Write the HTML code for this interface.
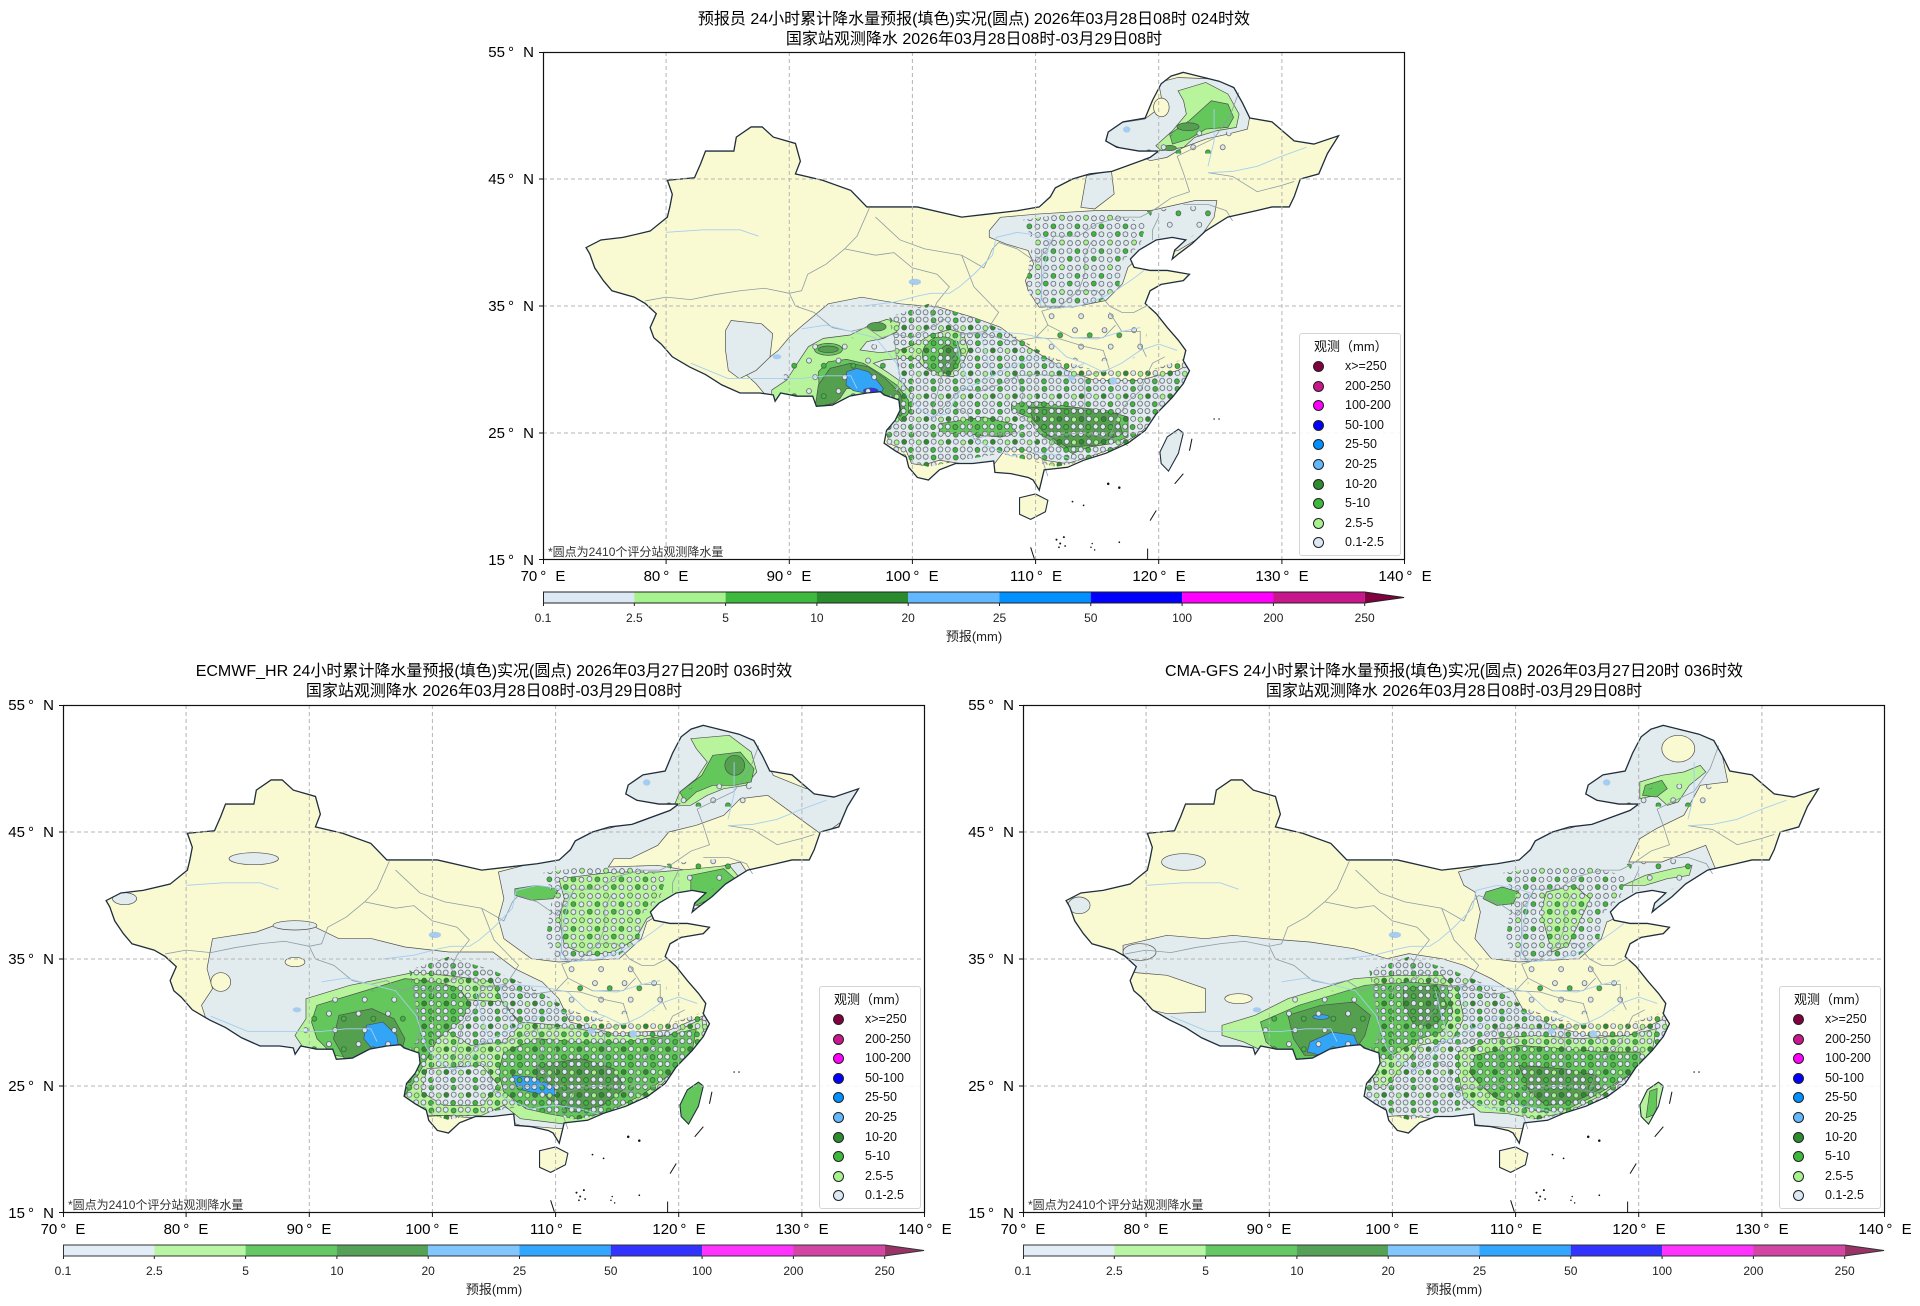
<!DOCTYPE html>
<html><head><meta charset="utf-8">
<style>
html,body{margin:0;padding:0;background:#fff}
body{width:1920px;height:1306px;position:relative;overflow:hidden;font-family:"Liberation Sans","Noto Sans CJK SC",sans-serif;color:#000}
.ttl{position:absolute;width:900px;text-align:center;font-size:16px;line-height:20px;white-space:nowrap}
.lat{position:absolute;width:62px;text-align:right;font-size:15px;line-height:15px;white-space:nowrap}
.lon{position:absolute;width:70px;text-align:center;font-size:15px;line-height:15px;white-space:nowrap}
.d{margin-left:3px}.n{margin-left:5px}
.fn{position:absolute;font-size:12px;line-height:14px;color:#333;white-space:nowrap}
.cbl{position:absolute;width:40px;text-align:center;font-size:12px;line-height:14px;color:#222}
.cbt{position:absolute;width:100px;text-align:center;font-size:13px;line-height:16px;color:#222}
.map{position:absolute;overflow:visible}
.leg{position:absolute;width:100px;height:221px;border:1px solid #d4d4d4;border-radius:3px;background:rgba(255,255,255,.85);font-size:12.5px;color:#111}
.leg .t{position:absolute;left:14px;top:5px;font-size:13px;line-height:16px;white-space:nowrap}
.leg .r{position:absolute;left:0;width:100px;height:16px;line-height:16px}
.leg .m{position:absolute;left:13px;top:3px;width:9px;height:9px;border:1px solid #222;border-radius:50%}
.leg .s{position:absolute;left:45px;top:0;white-space:nowrap}
svg .c > *{stroke:#505050;stroke-width:0.7px;vector-effect:non-scaling-stroke}
.lb{fill:#e2ecee}.lg{fill:#b7f49c}.g{fill:#63c75b}.dg{fill:#54a04f}.bl{fill:#32a5f6}.db{fill:#3333f6}.yl{fill:#fafad2}
</style></head><body>

<svg width="0" height="0" style="position:absolute;left:0;top:0">
<defs>
<path id="cn" vector-effect="non-scaling-stroke" d="M122,-53.4 L124.9,-52.7 L126.1,-52.2 L126.8,-51 L127.4,-49.8 L129.2,-49.5 L131,-48 L132.6,-47.75 L134.6,-48.4 L133.7,-47 L133,-45.4 L131.5,-45 L131,-43.6 L130.6,-42.8 L129.2,-42.8 L127.9,-42.5 L125.6,-42 L123.8,-40.9 L122.7,-39.9 L121.6,-39.1 L121.1,-38.7 L121.3,-39.4 L122.2,-40.2 L121.1,-40.4 L119.8,-40.2 L118.4,-39.4 L117.7,-38.7 L118,-38.05 L119.3,-37.8 L120.7,-37.8 L122.5,-37.5 L122,-37 L120.2,-36.7 L119.3,-36.2 L118.9,-35.2 L119.8,-34.4 L120.7,-33.3 L121.6,-32.3 L122.2,-31.5 L122,-30.7 L122.5,-29.9 L122,-28.9 L121.1,-27.8 L119.8,-26.5 L118.9,-25.2 L117.5,-24.2 L115.7,-23.4 L113.9,-22.85 L112.6,-22.3 L110.7,-22.1 L110.3,-20.5 L109.8,-21.3 L109.4,-21.5 L108,-21.8 L106.7,-21.9 L106.6,-22.8 L104.9,-22.6 L103.5,-22.6 L102.2,-22.1 L101.3,-21.3 L100.4,-21.5 L99.7,-22.3 L99.5,-23.1 L98.6,-23.6 L97.7,-24.2 L97.9,-25.2 L98.6,-26 L99,-26.8 L98.9,-27.6 L97.7,-28 L97.4,-28.25 L96.3,-28.15 L94.9,-27.9 L93.5,-27.2 L92.2,-27.1 L91.9,-27.9 L90.6,-27.9 L89.3,-28.15 L88.85,-27.5 L88.7,-28 L87.6,-28.15 L86,-28.15 L84.5,-28.8 L83.2,-29.6 L81.9,-30.2 L80.5,-31 L79.6,-32 L79,-32.5 L78.7,-33.3 L79.2,-34.4 L78.3,-35.2 L77.4,-35.7 L75.6,-36.2 L74.9,-37 L74.2,-38 L73.8,-39.1 L73.5,-39.6 L74.7,-40.2 L76.5,-40.4 L78.7,-40.9 L80.1,-42 L80.3,-42.8 L80.5,-43.8 L80.1,-44.9 L82.3,-45.1 L82.8,-46.2 L83.2,-47.2 L85.5,-47.2 L85.7,-48.3 L86.9,-49.1 L87.8,-49.1 L88.7,-48.3 L90.5,-47.8 L90.9,-46.4 L90.5,-45.4 L92.7,-44.9 L95,-44.1 L96.3,-42.8 L100.4,-42.8 L104,-42 L105.8,-42.2 L108.5,-42.5 L110.3,-42.8 L111.2,-43.6 L111.6,-44.3 L113,-45 L114.4,-45.4 L116.2,-45.6 L119.3,-46.7 L120,-47.2 L118.4,-47.2 L116.6,-47.5 L115.7,-48 L115.9,-48.7 L117.1,-49.5 L118.9,-49.8 L119.5,-51.2 L120.2,-52.5 L121,-53.1 Z"/>
<path id="isl" vector-effect="non-scaling-stroke" d="M121.6,-25.3 L122,-25 L121.6,-23.4 L120.8,-22 L120.2,-22.6 L120.1,-23.5 L120.7,-24.7 Z M108.7,-19.9 L110,-20.2 L111,-19.7 L110.8,-18.8 L109.6,-18.2 L108.7,-18.6 Z"/>
<clipPath id="cnclip"><path d="M122,-53.4 L124.9,-52.7 L126.1,-52.2 L126.8,-51 L127.4,-49.8 L129.2,-49.5 L131,-48 L132.6,-47.75 L134.6,-48.4 L133.7,-47 L133,-45.4 L131.5,-45 L131,-43.6 L130.6,-42.8 L129.2,-42.8 L127.9,-42.5 L125.6,-42 L123.8,-40.9 L122.7,-39.9 L121.6,-39.1 L121.1,-38.7 L121.3,-39.4 L122.2,-40.2 L121.1,-40.4 L119.8,-40.2 L118.4,-39.4 L117.7,-38.7 L118,-38.05 L119.3,-37.8 L120.7,-37.8 L122.5,-37.5 L122,-37 L120.2,-36.7 L119.3,-36.2 L118.9,-35.2 L119.8,-34.4 L120.7,-33.3 L121.6,-32.3 L122.2,-31.5 L122,-30.7 L122.5,-29.9 L122,-28.9 L121.1,-27.8 L119.8,-26.5 L118.9,-25.2 L117.5,-24.2 L115.7,-23.4 L113.9,-22.85 L112.6,-22.3 L110.7,-22.1 L110.3,-20.5 L109.8,-21.3 L109.4,-21.5 L108,-21.8 L106.7,-21.9 L106.6,-22.8 L104.9,-22.6 L103.5,-22.6 L102.2,-22.1 L101.3,-21.3 L100.4,-21.5 L99.7,-22.3 L99.5,-23.1 L98.6,-23.6 L97.7,-24.2 L97.9,-25.2 L98.6,-26 L99,-26.8 L98.9,-27.6 L97.7,-28 L97.4,-28.25 L96.3,-28.15 L94.9,-27.9 L93.5,-27.2 L92.2,-27.1 L91.9,-27.9 L90.6,-27.9 L89.3,-28.15 L88.85,-27.5 L88.7,-28 L87.6,-28.15 L86,-28.15 L84.5,-28.8 L83.2,-29.6 L81.9,-30.2 L80.5,-31 L79.6,-32 L79,-32.5 L78.7,-33.3 L79.2,-34.4 L78.3,-35.2 L77.4,-35.7 L75.6,-36.2 L74.9,-37 L74.2,-38 L73.8,-39.1 L73.5,-39.6 L74.7,-40.2 L76.5,-40.4 L78.7,-40.9 L80.1,-42 L80.3,-42.8 L80.5,-43.8 L80.1,-44.9 L82.3,-45.1 L82.8,-46.2 L83.2,-47.2 L85.5,-47.2 L85.7,-48.3 L86.9,-49.1 L87.8,-49.1 L88.7,-48.3 L90.5,-47.8 L90.9,-46.4 L90.5,-45.4 L92.7,-44.9 L95,-44.1 L96.3,-42.8 L100.4,-42.8 L104,-42 L105.8,-42.2 L108.5,-42.5 L110.3,-42.8 L111.2,-43.6 L111.6,-44.3 L113,-45 L114.4,-45.4 L116.2,-45.6 L119.3,-46.7 L120,-47.2 L118.4,-47.2 L116.6,-47.5 L115.7,-48 L115.9,-48.7 L117.1,-49.5 L118.9,-49.8 L119.5,-51.2 L120.2,-52.5 L121,-53.1 Z M121.6,-25.3 L122,-25 L121.6,-23.4 L120.8,-22 L120.2,-22.6 L120.1,-23.5 L120.7,-24.7 Z M108.7,-19.9 L110,-20.2 L111,-19.7 L110.8,-18.8 L109.6,-18.2 L108.7,-18.6 Z"/></clipPath>

<pattern id="pS" patternUnits="userSpaceOnUse" width="1.8" height="1.8">
<g stroke="#444" stroke-width="0.05">
<circle cx="0.28" cy="0.27" r="0.2" fill="#dce9f5"/>
<circle cx="0.92" cy="0.33" r="0.2" fill="#3dba3d"/>
<circle cx="1.5" cy="0.26" r="0.2" fill="#dce9f5"/>
<circle cx="0.33" cy="0.9" r="0.2" fill="#2e8b2e"/>
<circle cx="0.93" cy="0.88" r="0.2" fill="#dce9f5"/>
<circle cx="1.52" cy="0.94" r="0.2" fill="#a6f28f"/>
<circle cx="0.27" cy="1.5" r="0.2" fill="#dce9f5"/>
<circle cx="0.88" cy="1.53" r="0.2" fill="#3dba3d"/>
<circle cx="1.48" cy="1.49" r="0.2" fill="#dce9f5"/>
</g></pattern>
<pattern id="pN" patternUnits="userSpaceOnUse" width="1.95" height="1.95">
<g stroke="#444" stroke-width="0.05">
<circle cx="0.3" cy="0.3" r="0.2" fill="#dce9f5"/>
<circle cx="0.98" cy="0.35" r="0.2" fill="#dce9f5"/>
<circle cx="1.63" cy="0.28" r="0.2" fill="#3dba3d"/>
<circle cx="0.35" cy="0.98" r="0.2" fill="#dce9f5"/>
<circle cx="1.0" cy="0.95" r="0.2" fill="#a6f28f"/>
<circle cx="1.65" cy="1.0" r="0.2" fill="#dce9f5"/>
<circle cx="0.3" cy="1.63" r="0.2" fill="#3dba3d"/>
<circle cx="0.95" cy="1.65" r="0.2" fill="#dce9f5"/>
<circle cx="1.6" cy="1.6" r="0.2" fill="#dce9f5"/>
</g></pattern>
<pattern id="pT" patternUnits="userSpaceOnUse" width="2.4" height="2.4">
<g stroke="#444" stroke-width="0.05">
<circle cx="0.4" cy="0.5" r="0.2" fill="#dce9f5"/>
<circle cx="1.6" cy="0.9" r="0.2" fill="#3dba3d"/>
<circle cx="0.9" cy="1.8" r="0.2" fill="#dce9f5"/>
</g></pattern>

<g id="prov" fill="none" stroke="#8c9ca4" stroke-width="0.8">
<polyline vector-effect="non-scaling-stroke" points="78.3,-35.4 80,-35.7 82,-35.5 84,-35.9 86,-36.2 88,-36.4 90,-36 91,-36.2 91.5,-37.5 93,-38.3 94.5,-39.5 95.5,-40.5 96.5,-42.7"/>
<polyline vector-effect="non-scaling-stroke" points="90,-36 90.5,-35 92,-34.5 93.5,-33.3 95,-33 96.3,-33.3 97.5,-32.5 98.5,-32.8 98.7,-31 99,-29.5 98.7,-28.3"/>
<polyline vector-effect="non-scaling-stroke" points="94.5,-39.5 97,-39 98.5,-39.2 100,-38 102,-37.5 103,-36.5 102,-35.3 101.5,-34.3 102,-33.5 102.5,-34"/>
<polyline vector-effect="non-scaling-stroke" points="98.5,-32.8 100,-32.5 101.5,-33.3 102,-33.5"/>
<polyline vector-effect="non-scaling-stroke" points="97,-42 99,-40.2 101,-39.5 104,-39 105.8,-38 106.5,-39.5 107,-40 108.5,-39.5 110,-38.5 111,-39.5 111.5,-40.5 113.5,-40.5 115,-41.5 117,-42 118.5,-42 119.5,-42.5 121,-43.5 122.5,-44 122,-45.5 121.5,-46.8 123,-47.5 124.5,-48.2 125.8,-50 126.5,-51.8"/>
<polyline vector-effect="non-scaling-stroke" points="104,-39 105,-36.5 106,-35.5 106.5,-35 107,-34.5 106,-33 104,-32.8 102.5,-34"/>
<polyline vector-effect="non-scaling-stroke" points="110.5,-39.5 110.5,-37 110.5,-35.5 111,-34.8"/>
<polyline vector-effect="non-scaling-stroke" points="104,-32.8 106,-32.8 108,-32.2 110,-32.5 111,-33.5 110.5,-34.6"/>
<polyline vector-effect="non-scaling-stroke" points="101.5,-26 103,-27.5 104,-28.5 105.5,-28.3 107,-28.8 108.5,-29.5 109,-28 108.5,-26.5 109.5,-25.8 108.5,-25 106,-24.8 105,-24.5 104.5,-26.5 103.5,-27"/>
<polyline vector-effect="non-scaling-stroke" points="108.5,-29.5 110,-29.6 112,-29.5 114,-29.5 116,-30"/>
<polyline vector-effect="non-scaling-stroke" points="110,-32.5 112,-32.4 114,-31.8 115.5,-31.5 116,-30"/>
<polyline vector-effect="non-scaling-stroke" points="114,-29.5 114,-27 114,-25.5 113.5,-25"/>
<polyline vector-effect="non-scaling-stroke" points="110.5,-24.5 112,-24.8 113.5,-25 115,-24.8 116.5,-24.5 117.5,-24"/>
<polyline vector-effect="non-scaling-stroke" points="111,-21.6 110.5,-23 111.5,-24.5"/>
<polyline vector-effect="non-scaling-stroke" points="116,-24.6 116.5,-26 117.5,-27.5 118.5,-28.3 119,-29.5 119.5,-30.5 120.5,-31"/>
<polyline vector-effect="non-scaling-stroke" points="110.5,-34.6 112,-35 113.5,-36.2 115,-36.2 116,-35 117,-34.5 118,-34.5 119,-35"/>
<polyline vector-effect="non-scaling-stroke" points="113.5,-36.2 114,-37.5 114,-39 114.5,-40"/>
<polyline vector-effect="non-scaling-stroke" points="116,-34.5 117,-33 118.5,-33 118.5,-32 119,-31"/>
<polyline vector-effect="non-scaling-stroke" points="111,-33.5 113,-32.5 115.5,-32.5 116.5,-33.5"/>
<polyline vector-effect="non-scaling-stroke" points="124,-45.5 126,-45.2 128,-44 130,-44.5 131,-44.8"/>
<polyline vector-effect="non-scaling-stroke" points="122,-43 124,-43 125.5,-42.5 126,-41.7"/>
<polyline vector-effect="non-scaling-stroke" points="119.5,-40.2 119.5,-41 120,-42"/>
<polyline vector-effect="non-scaling-stroke" points="104,-32.8 103.5,-31 102.5,-30 102,-28 101.5,-26.5"/>
</g>
<g id="riv" fill="none" stroke="#a6cdf0" stroke-width="0.9">
<polyline vector-effect="non-scaling-stroke" points="96,-35 98.5,-35.3 100.5,-35.8 101.5,-36 103,-36 103.8,-36.5 105,-37.5 106.5,-39 106.8,-40.4 108.5,-40.8 110,-40.6 111.2,-40.2 110.8,-38.5 110.5,-36.5 110.4,-35 111.5,-34.8 113.5,-35 115,-35.5 116.5,-36.2 118,-37.2 118.8,-37.8"/>
<polyline vector-effect="non-scaling-stroke" points="91,-33.2 93,-33.5 95,-33 97,-32.5 98.7,-30.5 99.5,-28 100.5,-27 101.5,-26.3 102.8,-26.5 104,-28.5 105,-28.8 106.5,-29.5 108,-30.2 110,-31 111.5,-30.5 112.5,-29.8 114,-30.5 115.5,-29.8 117,-30.5 118.5,-31.5 120,-32 121.5,-31.5"/>
<polyline vector-effect="non-scaling-stroke" points="104.5,-24.9 106,-24 108,-23.2 110,-23.5 112,-23.2 113.5,-22.8"/>
<polyline vector-effect="non-scaling-stroke" points="113,-32.5 115,-32.4 117,-33 118.5,-33.3"/>
<polyline vector-effect="non-scaling-stroke" points="124,-45.5 126,-45.6 128,-46 130,-46.8 132,-47.5"/>
<polyline vector-effect="non-scaling-stroke" points="124.5,-50.5 124.5,-48 124,-46"/>
<polyline vector-effect="non-scaling-stroke" points="82,-30.5 85,-29.3 88,-29.3 91,-29.3 93,-29.5 95,-29.5 95.5,-28.5"/>
<polyline vector-effect="non-scaling-stroke" points="80,-40.8 83,-41 86,-41 87.5,-40.5"/>
<polyline vector-effect="non-scaling-stroke" points="106.5,-33 109,-32.8 111,-32.4 112.5,-31 114,-30.5"/>
<polyline vector-effect="non-scaling-stroke" points="103.5,-32.5 104,-30.5 104.5,-29"/>
<polyline vector-effect="non-scaling-stroke" points="105.5,-33 106,-31 106.5,-29.5"/>
</g>
<g id="lakes" fill="#a6cdf0">
<ellipse cx="100.2" cy="-36.9" rx="0.5" ry="0.25"/>
<ellipse cx="116.3" cy="-29.1" rx="0.3" ry="0.3"/>
<ellipse cx="112.9" cy="-29.3" rx="0.3" ry="0.2"/>
<ellipse cx="89" cy="-31" rx="0.35" ry="0.2"/>
<ellipse cx="117.4" cy="-48.9" rx="0.3" ry="0.25"/>
</g>
<g id="dots">
<polygon fill="url(#pN)" points="109,-41.8 112,-42.2 116,-42.3 119,-41.5 118.5,-39.8 117,-38.5 116.8,-36.5 115,-35.2 112,-34.8 110,-35 109.2,-36.5 109.5,-38.5 109.8,-40"/>
<polygon fill="url(#pS)" points="98.12,-34.12 101.28,-35.17 104.89,-34.12 108.04,-32.81 111.2,-30.98 114.81,-29.93 119.31,-29.93 122.47,-30.98 122.47,-28.88 120.22,-26.26 117.51,-24.16 114.35,-22.85 111.65,-22.33 109.4,-22.85 107.14,-23.37 103.98,-22.85 101.28,-22.33 98.58,-23.11 97.45,-24.95 97.67,-27.31 99.02,-28.88 98.58,-31.5"/>
<polygon fill="url(#pT)" points="89.56,-31.5 94.97,-32.55 98.58,-31.5 98.58,-27.83 94.97,-27.57 89.56,-27.83"/>
<polygon fill="url(#pT)" points="119,-42.5 124.5,-43 124.5,-41 121,-40"/>
<polygon fill="url(#pT)" points="118.5,-47 121,-48.5 125,-49 127,-48 125,-47"/>
<polygon fill="url(#pT)" points="111,-34.8 116,-34.5 119,-33 119,-31 114,-30.5 111,-31.5"/>
</g>
<g id="misc" stroke="#111" stroke-width="1" fill="#111">
<line vector-effect="non-scaling-stroke" x1="122.7" y1="-24.55" x2="122.5" y2="-23.6"/>
<line vector-effect="non-scaling-stroke" x1="122" y1="-21.8" x2="121.3" y2="-21"/>
<line vector-effect="non-scaling-stroke" x1="119.8" y1="-18.9" x2="119.3" y2="-18.1"/>
<line vector-effect="non-scaling-stroke" x1="119.1" y1="-15.9" x2="119.1" y2="-15"/>
<line vector-effect="non-scaling-stroke" x1="109.6" y1="-16" x2="109.9" y2="-15.1"/>
<g stroke="none">
<circle cx="115.9" cy="-21" r="0.1"/><circle cx="116.8" cy="-20.7" r="0.1"/>
<circle cx="113" cy="-19.6" r="0.07"/><circle cx="113.9" cy="-19.3" r="0.07"/>
<circle cx="111.7" cy="-16.6" r="0.08"/><circle cx="112" cy="-16.3" r="0.08"/><circle cx="112.3" cy="-16.8" r="0.08"/><circle cx="111.9" cy="-16" r="0.07"/><circle cx="112.4" cy="-16.1" r="0.07"/>
<circle cx="114.5" cy="-16" r="0.06"/><circle cx="114.8" cy="-15.8" r="0.06"/><circle cx="114.6" cy="-16.3" r="0.06"/>
<circle cx="116.8" cy="-16.4" r="0.07"/>
<circle cx="124.5" cy="-26.1" r="0.06"/><circle cx="124.9" cy="-26.1" r="0.06"/>
</g>
</g>
</defs>
</svg>

<!-- ================= TOP PANEL ================= -->
<div class="ttl" style="left:524px;top:10px">预报员 24小时累计降水量预报(填色)实况(圆点) 2026年03月28日08时 024时效</div>
<div class="ttl" style="left:524px;top:30px">国家站观测降水 2026年03月28日08时-03月29日08时</div>

<svg class="map" style="left:543px;top:52px" width="862" height="508" viewBox="0 0 862 508">
<g transform="matrix(12.314 0 0 12.7 -861.98 698.5)">
<use href="#cn" fill="#fafad2"/>
<use href="#isl" fill="#fafad2"/>
<g clip-path="url(#cnclip)">
<g class="c" transform="matrix(0.045086 0 0 0.026212 69.72 -55.092)">
<polygon class="lb" points="1115,95 1150,80 1220,85 1260,120 1280,190 1275,235 1240,250 1200,265 1160,290 1130,320 1100,330 1060,300 1020,275 1025,240 1050,215 1090,205 1110,180 1120,140"/>
<ellipse class="yl" cx="1120" cy="170" rx="14" ry="28"/>
<polygon class="lb" points="810,540 830,500 900,490 1000,480 1100,480 1180,450 1220,450 1215,500 1190,560 1150,600 1080,620 1060,650 1050,700 1020,750 960,770 900,770 880,720 875,690 890,640 880,600 840,580 810,560"/>
<polygon class="lb" points="985,375 1030,360 1035,430 1000,475 975,470"/>
<polygon class="lb" points="470,830 520,760 580,740 650,760 720,770 780,800 830,830 870,880 900,910 950,960 1000,990 1080,990 1150,960 1180,930 1170,1000 1120,1090 1080,1150 1040,1190 990,1220 950,1240 910,1230 880,1200 840,1195 815,1250 760,1240 720,1230 690,1245 670,1240 660,1200 630,1180 620,1110 600,1100 500,1100 450,1080 420,1060 390,1000 370,970 400,940 430,900 450,860"/>
<polygon class="lb" points="345,810 400,820 420,850 415,920 390,960 360,985 340,960 335,900 335,840"/>
<polygon class="lg" points="1150,120 1200,95 1240,130 1260,190 1255,230 1220,240 1180,260 1160,290 1120,300 1110,285 1140,240 1165,190 1160,150"/>
<polygon class="g" points="1170,210 1210,150 1240,160 1250,200 1240,230 1200,235 1170,265 1140,280 1135,250"/>
<ellipse class="dg" cx="1168" cy="228" rx="20" ry="12"/>
<ellipse class="dg" cx="1135" cy="292" rx="12" ry="8"/>
<polygon class="g" points="850,1060 900,1055 960,1070 1020,1080 1060,1100 1060,1160 1030,1180 990,1190 960,1210 930,1180 900,1150 880,1100 850,1080"/>
<polygon class="dg" points="880,1070 960,1075 1040,1090 1050,1150 1000,1185 950,1190 910,1150 890,1110"/>
<polygon class="g" points="720,1120 800,1100 850,1120 860,1150 830,1160 760,1150 720,1150"/>
</g>
<g class="c" transform="matrix(0.027078 0 0 0.026247 86.0 -35.47)">
<polygon class="lg" points="95,270 140,240 175,185 205,140 250,115 330,105 390,75 440,58 480,68 470,95 430,115 380,125 360,150 420,158 480,150 530,130 570,105 630,88 670,100 685,150 665,200 640,230 590,225 550,200 530,175 480,175 430,180 400,190 440,215 490,250 520,290 510,330 490,360 460,330 440,300 380,290 300,320 200,330 95,300"/>
<ellipse class="g" cx="605" cy="165" rx="58" ry="55"/>
<ellipse class="dg" cx="622" cy="178" rx="26" ry="42"/>
<ellipse class="g" cx="265" cy="148" rx="42" ry="18"/>
<ellipse class="dg" cx="265" cy="148" rx="30" ry="10"/>
<ellipse class="dg" cx="410" cy="80" rx="28" ry="13"/>
<polygon class="g" points="235,215 265,185 320,178 370,190 420,220 470,255 505,300 505,340 485,365 455,335 430,295 385,270 330,258 290,265 260,300 240,320"/>
<polygon class="dg" points="225,322 235,255 270,205 330,190 385,200 435,235 480,280 495,330 480,350 460,320 420,285 370,268 320,265 300,295 280,310"/>
<polygon class="bl" points="320,215 350,205 385,215 410,240 430,265 420,285 380,280 340,272 318,255"/>
<ellipse class="db" cx="392" cy="272" rx="22" ry="8"/>
</g>
<g class="c"><polygon class="lb" points="119.8,-21.8 122.3,-21.8 122.3,-25.5 119.8,-25.5"/></g>
<use href="#dots"/>
</g>
<use href="#prov"/>
<use href="#riv"/>
<use href="#lakes"/>
<use href="#cn" fill="none" stroke="#1f2d3d" stroke-width="1.3"/>
<use href="#isl" fill="none" stroke="#1f2d3d" stroke-width="1.1"/>
<use href="#misc"/>
</g>
<g stroke="#b4b4b4" stroke-width="1" stroke-dasharray="4,3">
<line x1="123.1" y1="0" x2="123.1" y2="508"/><line x1="246.3" y1="0" x2="246.3" y2="508"/><line x1="369.4" y1="0" x2="369.4" y2="508"/><line x1="492.6" y1="0" x2="492.6" y2="508"/><line x1="615.7" y1="0" x2="615.7" y2="508"/><line x1="738.9" y1="0" x2="738.9" y2="508"/>
<line x1="0" y1="127" x2="862" y2="127"/><line x1="0" y1="254" x2="862" y2="254"/><line x1="0" y1="381" x2="862" y2="381"/>
</g>
<rect x="0.5" y="0.5" width="861" height="507" fill="none" stroke="#111" stroke-width="1.2"/>
<g stroke="#111" stroke-width="1">
<line x1="-4" y1="0.5" x2="0" y2="0.5"/><line x1="-4" y1="127" x2="0" y2="127"/><line x1="-4" y1="254" x2="0" y2="254"/><line x1="-4" y1="381" x2="0" y2="381"/><line x1="-4" y1="507.5" x2="0" y2="507.5"/>
<line x1="0.5" y1="508" x2="0.5" y2="512"/><line x1="123.1" y1="508" x2="123.1" y2="512"/><line x1="246.3" y1="508" x2="246.3" y2="512"/><line x1="369.4" y1="508" x2="369.4" y2="512"/><line x1="492.6" y1="508" x2="492.6" y2="512"/><line x1="615.7" y1="508" x2="615.7" y2="512"/><line x1="738.9" y1="508" x2="738.9" y2="512"/><line x1="861.5" y1="508" x2="861.5" y2="512"/>
</g>
</svg>

<div class="lat" style="left:472px;top:44.5px">55<span class="d">°</span>&nbsp;<span class="n">N</span></div>
<div class="lat" style="left:472px;top:171.5px">45<span class="d">°</span>&nbsp;<span class="n">N</span></div>
<div class="lat" style="left:472px;top:298.5px">35<span class="d">°</span>&nbsp;<span class="n">N</span></div>
<div class="lat" style="left:472px;top:425.5px">25<span class="d">°</span>&nbsp;<span class="n">N</span></div>
<div class="lat" style="left:472px;top:552.5px">15<span class="d">°</span>&nbsp;<span class="n">N</span></div>

<div class="lon" style="left:508px;top:569px">70<span class="d">°</span>&nbsp;<span class="n">E</span></div>
<div class="lon" style="left:631px;top:569px">80<span class="d">°</span>&nbsp;<span class="n">E</span></div>
<div class="lon" style="left:754px;top:569px">90<span class="d">°</span>&nbsp;<span class="n">E</span></div>
<div class="lon" style="left:877px;top:569px">100<span class="d">°</span>&nbsp;<span class="n">E</span></div>
<div class="lon" style="left:1001px;top:569px">110<span class="d">°</span>&nbsp;<span class="n">E</span></div>
<div class="lon" style="left:1124px;top:569px">120<span class="d">°</span>&nbsp;<span class="n">E</span></div>
<div class="lon" style="left:1247px;top:569px">130<span class="d">°</span>&nbsp;<span class="n">E</span></div>
<div class="lon" style="left:1370px;top:569px">140<span class="d">°</span>&nbsp;<span class="n">E</span></div>

<div class="fn" style="left:548px;top:545px">*圆点为2410个评分站观测降水量</div>

<div class="leg" style="left:1299px;top:333px">
<div class="t">观测（mm）</div>
<div class="r" style="top:24px"><span class="m" style="background:#800040"></span><span class="s">x&gt;=250</span></div>
<div class="r" style="top:43.6px"><span class="m" style="background:#c8168c"></span><span class="s">200-250</span></div>
<div class="r" style="top:63.2px"><span class="m" style="background:#ff00ff"></span><span class="s">100-200</span></div>
<div class="r" style="top:82.8px"><span class="m" style="background:#0000ff"></span><span class="s">50-100</span></div>
<div class="r" style="top:102.4px"><span class="m" style="background:#0090ff"></span><span class="s">25-50</span></div>
<div class="r" style="top:122px"><span class="m" style="background:#61b8ff"></span><span class="s">20-25</span></div>
<div class="r" style="top:141.6px"><span class="m" style="background:#2e8b2e"></span><span class="s">10-20</span></div>
<div class="r" style="top:161.2px"><span class="m" style="background:#3dba3d"></span><span class="s">5-10</span></div>
<div class="r" style="top:180.8px"><span class="m" style="background:#a6f28f"></span><span class="s">2.5-5</span></div>
<div class="r" style="top:200.4px"><span class="m" style="background:#dce9f5"></span><span class="s">0.1-2.5</span></div>
</div>

<svg class="map" style="left:543px;top:590px" width="862" height="18" viewBox="0 0 862 18">
<rect x="0" y="2" width="91.4" height="11" fill="#dce9f5"/>
<rect x="91.3" y="2" width="91.4" height="11" fill="#a6f28f"/>
<rect x="182.6" y="2" width="91.4" height="11" fill="#3dba3d"/>
<rect x="273.9" y="2" width="91.4" height="11" fill="#2a8a2e"/>
<rect x="365.2" y="2" width="91.4" height="11" fill="#61b8ff"/>
<rect x="456.5" y="2" width="91.4" height="11" fill="#0090ff"/>
<rect x="547.8" y="2" width="91.4" height="11" fill="#0000ff"/>
<rect x="639.1" y="2" width="91.4" height="11" fill="#ff00ff"/>
<rect x="730.4" y="2" width="91.3" height="11" fill="#c8168c"/>
<polygon points="821.7,2 862,7.5 821.7,13" fill="#800040"/>
<path d="M0.5,2 H821.7 L861,7.5 L821.7,13 H0.5 Z" fill="none" stroke="#222" stroke-width="1"/>
<g stroke="#222" stroke-width="1"><line x1="0.5" y1="13" x2="0.5" y2="16"/><line x1="91.3" y1="13" x2="91.3" y2="16"/><line x1="182.6" y1="13" x2="182.6" y2="16"/><line x1="273.9" y1="13" x2="273.9" y2="16"/><line x1="365.2" y1="13" x2="365.2" y2="16"/><line x1="456.5" y1="13" x2="456.5" y2="16"/><line x1="547.8" y1="13" x2="547.8" y2="16"/><line x1="639.1" y1="13" x2="639.1" y2="16"/><line x1="730.4" y1="13" x2="730.4" y2="16"/><line x1="821.7" y1="13" x2="821.7" y2="16"/></g>
</svg>
<div class="cbl" style="left:523px;top:611px">0.1</div>
<div class="cbl" style="left:614.3px;top:611px">2.5</div>
<div class="cbl" style="left:705.6px;top:611px">5</div>
<div class="cbl" style="left:796.9px;top:611px">10</div>
<div class="cbl" style="left:888.2px;top:611px">20</div>
<div class="cbl" style="left:979.5px;top:611px">25</div>
<div class="cbl" style="left:1070.8px;top:611px">50</div>
<div class="cbl" style="left:1162.1px;top:611px">100</div>
<div class="cbl" style="left:1253.4px;top:611px">200</div>
<div class="cbl" style="left:1344.7px;top:611px">250</div>
<div class="cbt" style="left:924px;top:629px">预报(mm)</div>

<!-- ================= BOTTOM LEFT (ECMWF) ================= -->
<div class="ttl" style="left:44px;top:662px">ECMWF_HR 24小时累计降水量预报(填色)实况(圆点) 2026年03月27日20时 036时效</div>
<div class="ttl" style="left:44px;top:682px">国家站观测降水 2026年03月28日08时-03月29日08时</div>

<svg class="map" style="left:63px;top:705px" width="862" height="508" viewBox="0 0 862 508">
<g transform="matrix(12.314 0 0 12.7 -861.98 698.5)">
<use href="#cn" fill="#fafad2"/>
<use href="#isl" fill="#fafad2"/>
<g clip-path="url(#cnclip)">
<g class="c" transform="matrix(0.044643 0 0 0.026247 70.089 -54.974)">
<polygon class="lb" points="270,700 350,680 400,650 450,660 500,700 560,700 620,725 700,740 780,740 820,790 870,830 900,880 920,950 1000,985 1100,975 1165,930 1175,1000 1120,1100 1060,1190 990,1240 950,1270 900,1270 830,1260 790,1240 720,1235 690,1230 650,1235 620,1200 600,1100 560,1110 480,1100 420,1060 340,1040 300,990 260,950 250,900 270,850 260,790"/>
<polygon class="lb" points="790,500 860,470 920,430 940,380 990,370 1030,350 1020,250 1040,200 1100,150 1130,60 1220,60 1260,110 1290,210 1350,250 1460,240 1430,330 1380,390 1330,330 1280,270 1230,280 1200,330 1150,360 1100,380 1080,420 1030,460 1000,460 990,485 1080,480 1150,500 1230,470 1250,520 1200,580 1150,610 1100,610 1060,650 1050,700 1010,760 900,770 850,760 800,700 790,640 800,580"/>
<ellipse class="lb" cx="345" cy="460" rx="45" ry="18"/>
<ellipse class="lb" cx="110" cy="580" rx="22" ry="18"/>
<ellipse class="lb" cx="420" cy="660" rx="40" ry="14"/>
<ellipse class="yl" cx="420" cy="770" rx="18" ry="14"/>
<ellipse class="yl" cx="285" cy="830" rx="18" ry="28"/>
<path class="lg" fill-rule="evenodd" d="M440,880 L520,840 640,800 720,815 780,830 800,900 830,950 900,960 1000,990 1100,990 1160,940 1165,1000 1110,1100 1060,1180 990,1230 930,1260 880,1250 830,1240 800,1200 760,1230 700,1230 650,1230 620,1180 620,1090 600,1070 540,1070 490,1060 440,1040 420,990 440,940 Z M700,880 L800,890 830,960 800,1010 740,1020 700,980 680,930 Z M660,1090 L760,1080 790,1140 760,1200 690,1200 650,1160 Z"/>
<polygon class="g" points="460,900 540,860 620,820 680,830 720,850 740,900 720,950 680,1000 660,1060 640,1120 620,1170 610,1100 600,1060 540,1060 490,1050 460,1000 450,950"/>
<polygon class="g" points="800,1040 860,1000 940,1010 1020,1010 1100,990 1150,970 1140,1060 1100,1110 1050,1170 990,1220 930,1240 880,1225 840,1210 800,1160 790,1100"/>
<polygon class="dg" points="500,930 560,910 600,940 620,1000 610,1060 560,1060 510,1060 490,1000"/>
<polygon class="dg" points="860,1080 940,1060 1000,1090 1020,1150 980,1200 930,1220 880,1180 860,1130"/>
<polygon class="bl" points="550,960 580,950 605,990 610,1040 590,1050 560,1030 545,1000"/>
<polygon class="bl" points="815,1110 850,1115 890,1140 895,1170 860,1165 825,1150"/>
<polygon class="lg" points="1140,100 1210,90 1250,140 1260,200 1240,240 1200,250 1170,270 1140,300 1110,300 1120,260 1150,220 1170,170 1150,130"/>
<polygon class="g" points="1180,150 1230,140 1255,190 1250,230 1220,240 1180,240 1150,260 1130,290 1120,260 1160,210"/>
<ellipse class="dg" cx="1220" cy="180" rx="18" ry="30"/>
<polygon class="lg" points="900,520 1000,500 1080,500 1150,490 1210,480 1230,520 1200,570 1160,600 1100,600 1060,640 1040,700 1000,740 950,750 910,720 900,640 910,580"/>
<polygon class="g" points="820,550 860,540 900,550 890,580 850,585 820,570"/>
<polygon class="g" points="1140,510 1200,490 1220,520 1190,570 1150,600 1140,560"/>
</g>
<g class="c"><polygon class="g" points="119.8,-21.8 122.3,-21.8 122.3,-25.5 119.8,-25.5"/></g>
<use href="#dots"/>
</g>
<use href="#prov"/>
<use href="#riv"/>
<use href="#lakes"/>
<use href="#cn" fill="none" stroke="#1f2d3d" stroke-width="1.3"/>
<use href="#isl" fill="none" stroke="#1f2d3d" stroke-width="1.1"/>
<use href="#misc"/>
</g>
<g stroke="#b4b4b4" stroke-width="1" stroke-dasharray="4,3">
<line x1="123.1" y1="0" x2="123.1" y2="508"/><line x1="246.3" y1="0" x2="246.3" y2="508"/><line x1="369.4" y1="0" x2="369.4" y2="508"/><line x1="492.6" y1="0" x2="492.6" y2="508"/><line x1="615.7" y1="0" x2="615.7" y2="508"/><line x1="738.9" y1="0" x2="738.9" y2="508"/>
<line x1="0" y1="127" x2="862" y2="127"/><line x1="0" y1="254" x2="862" y2="254"/><line x1="0" y1="381" x2="862" y2="381"/>
</g>
<rect x="0.5" y="0.5" width="861" height="507" fill="none" stroke="#111" stroke-width="1.2"/>
<g stroke="#111" stroke-width="1">
<line x1="-4" y1="0.5" x2="0" y2="0.5"/><line x1="-4" y1="127" x2="0" y2="127"/><line x1="-4" y1="254" x2="0" y2="254"/><line x1="-4" y1="381" x2="0" y2="381"/><line x1="-4" y1="507.5" x2="0" y2="507.5"/>
<line x1="0.5" y1="508" x2="0.5" y2="512"/><line x1="123.1" y1="508" x2="123.1" y2="512"/><line x1="246.3" y1="508" x2="246.3" y2="512"/><line x1="369.4" y1="508" x2="369.4" y2="512"/><line x1="492.6" y1="508" x2="492.6" y2="512"/><line x1="615.7" y1="508" x2="615.7" y2="512"/><line x1="738.9" y1="508" x2="738.9" y2="512"/><line x1="861.5" y1="508" x2="861.5" y2="512"/>
</g>
</svg>

<div class="lat" style="left:-8px;top:697.5px">55<span class="d">°</span>&nbsp;<span class="n">N</span></div>
<div class="lat" style="left:-8px;top:824.5px">45<span class="d">°</span>&nbsp;<span class="n">N</span></div>
<div class="lat" style="left:-8px;top:951.5px">35<span class="d">°</span>&nbsp;<span class="n">N</span></div>
<div class="lat" style="left:-8px;top:1078.5px">25<span class="d">°</span>&nbsp;<span class="n">N</span></div>
<div class="lat" style="left:-8px;top:1205.5px">15<span class="d">°</span>&nbsp;<span class="n">N</span></div>

<div class="lon" style="left:28px;top:1222px">70<span class="d">°</span>&nbsp;<span class="n">E</span></div>
<div class="lon" style="left:151px;top:1222px">80<span class="d">°</span>&nbsp;<span class="n">E</span></div>
<div class="lon" style="left:274px;top:1222px">90<span class="d">°</span>&nbsp;<span class="n">E</span></div>
<div class="lon" style="left:397px;top:1222px">100<span class="d">°</span>&nbsp;<span class="n">E</span></div>
<div class="lon" style="left:521px;top:1222px">110<span class="d">°</span>&nbsp;<span class="n">E</span></div>
<div class="lon" style="left:644px;top:1222px">120<span class="d">°</span>&nbsp;<span class="n">E</span></div>
<div class="lon" style="left:767px;top:1222px">130<span class="d">°</span>&nbsp;<span class="n">E</span></div>
<div class="lon" style="left:890px;top:1222px">140<span class="d">°</span>&nbsp;<span class="n">E</span></div>

<div class="fn" style="left:68px;top:1198px">*圆点为2410个评分站观测降水量</div>

<div class="leg" style="left:819px;top:986px">
<div class="t">观测（mm）</div>
<div class="r" style="top:24px"><span class="m" style="background:#800040"></span><span class="s">x&gt;=250</span></div>
<div class="r" style="top:43.6px"><span class="m" style="background:#c8168c"></span><span class="s">200-250</span></div>
<div class="r" style="top:63.2px"><span class="m" style="background:#ff00ff"></span><span class="s">100-200</span></div>
<div class="r" style="top:82.8px"><span class="m" style="background:#0000ff"></span><span class="s">50-100</span></div>
<div class="r" style="top:102.4px"><span class="m" style="background:#0090ff"></span><span class="s">25-50</span></div>
<div class="r" style="top:122px"><span class="m" style="background:#61b8ff"></span><span class="s">20-25</span></div>
<div class="r" style="top:141.6px"><span class="m" style="background:#2e8b2e"></span><span class="s">10-20</span></div>
<div class="r" style="top:161.2px"><span class="m" style="background:#3dba3d"></span><span class="s">5-10</span></div>
<div class="r" style="top:180.8px"><span class="m" style="background:#a6f28f"></span><span class="s">2.5-5</span></div>
<div class="r" style="top:200.4px"><span class="m" style="background:#dce9f5"></span><span class="s">0.1-2.5</span></div>
</div>

<svg class="map" style="left:63px;top:1243px" width="862" height="18" viewBox="0 0 862 18">
<rect x="0" y="2" width="91.4" height="11" fill="#e3edf7"/>
<rect x="91.3" y="2" width="91.4" height="11" fill="#b8f5a5"/>
<rect x="182.6" y="2" width="91.4" height="11" fill="#64c864"/>
<rect x="273.9" y="2" width="91.4" height="11" fill="#55a158"/>
<rect x="365.2" y="2" width="91.4" height="11" fill="#81c6ff"/>
<rect x="456.5" y="2" width="91.4" height="11" fill="#33a6ff"/>
<rect x="547.8" y="2" width="91.4" height="11" fill="#3333ff"/>
<rect x="639.1" y="2" width="91.4" height="11" fill="#ff33ff"/>
<rect x="730.4" y="2" width="91.3" height="11" fill="#d345a3"/>
<polygon points="821.7,2 862,7.5 821.7,13" fill="#993366"/>
<path d="M0.5,2 H821.7 L861,7.5 L821.7,13 H0.5 Z" fill="none" stroke="#333" stroke-width="1"/>
<g stroke="#222" stroke-width="1"><line x1="0.5" y1="13" x2="0.5" y2="16"/><line x1="91.3" y1="13" x2="91.3" y2="16"/><line x1="182.6" y1="13" x2="182.6" y2="16"/><line x1="273.9" y1="13" x2="273.9" y2="16"/><line x1="365.2" y1="13" x2="365.2" y2="16"/><line x1="456.5" y1="13" x2="456.5" y2="16"/><line x1="547.8" y1="13" x2="547.8" y2="16"/><line x1="639.1" y1="13" x2="639.1" y2="16"/><line x1="730.4" y1="13" x2="730.4" y2="16"/><line x1="821.7" y1="13" x2="821.7" y2="16"/></g>
</svg>
<div class="cbl" style="left:43px;top:1264px">0.1</div>
<div class="cbl" style="left:134.3px;top:1264px">2.5</div>
<div class="cbl" style="left:225.6px;top:1264px">5</div>
<div class="cbl" style="left:316.9px;top:1264px">10</div>
<div class="cbl" style="left:408.2px;top:1264px">20</div>
<div class="cbl" style="left:499.5px;top:1264px">25</div>
<div class="cbl" style="left:590.8px;top:1264px">50</div>
<div class="cbl" style="left:682.1px;top:1264px">100</div>
<div class="cbl" style="left:773.4px;top:1264px">200</div>
<div class="cbl" style="left:864.7px;top:1264px">250</div>
<div class="cbt" style="left:444px;top:1282px">预报(mm)</div>

<!-- ================= BOTTOM RIGHT (CMA-GFS) ================= -->
<div class="ttl" style="left:1004px;top:662px">CMA-GFS 24小时累计降水量预报(填色)实况(圆点) 2026年03月27日20时 036时效</div>
<div class="ttl" style="left:1004px;top:682px">国家站观测降水 2026年03月28日08时-03月29日08时</div>

<svg class="map" style="left:1023px;top:705px" width="862" height="508" viewBox="0 0 862 508">
<g transform="matrix(12.314 0 0 12.7 -861.98 698.5)">
<use href="#cn" fill="#fafad2"/>
<use href="#isl" fill="#fafad2"/>
<g clip-path="url(#cnclip)">
<g class="c" transform="matrix(0.044643 0 0 0.026247 70.089 -54.974)">
<polygon class="lb" points="180,720 260,690 330,700 380,690 440,700 520,710 600,730 660,760 700,745 760,760 800,780 850,820 890,860 910,920 960,960 1020,990 1100,990 1165,940 1175,1000 1120,1100 1060,1190 990,1240 950,1270 900,1270 830,1260 790,1250 720,1235 690,1230 650,1235 620,1200 600,1100 560,1110 480,1100 420,1060 340,1040 300,1000 260,960 220,930 190,900 180,800"/>
<polygon class="lb" points="790,500 860,470 920,430 940,380 990,370 1030,350 1020,250 1040,200 1100,150 1130,60 1220,60 1250,90 1270,150 1280,230 1230,240 1200,330 1150,370 1120,400 1100,470 1160,470 1240,420 1260,500 1220,560 1150,610 1100,620 1060,650 1050,700 1010,760 900,770 850,760 820,700 830,620 820,560 800,540"/>
<ellipse class="yl" cx="1190" cy="130" rx="30" ry="40"/>
<ellipse class="lb" cx="290" cy="470" rx="40" ry="25"/>
<ellipse class="lb" cx="100" cy="600" rx="20" ry="25"/>
<ellipse class="lb" cx="210" cy="740" rx="30" ry="25"/>
<polygon class="yl" points="190,800 260,810 330,850 330,920 260,925 195,900"/>
<ellipse class="yl" cx="390" cy="880" rx="25" ry="15"/>
<polygon class="lg" points="360,960 420,930 480,880 540,850 600,820 680,810 760,810 790,860 800,940 780,1000 720,1020 700,1060 680,1100 660,1140 640,1150 630,1090 610,1060 560,1070 500,1070 450,1050 400,1010 360,990"/>
<polygon class="g" points="430,950 500,900 560,870 620,840 700,830 770,840 780,920 760,980 720,1000 690,1030 660,1060 620,1050 580,1060 520,1070 470,1050 440,1010"/>
<polygon class="dg" points="480,930 540,900 600,890 630,930 620,990 600,1040 560,1050 510,1050 490,1000"/>
<polygon class="dg" points="690,850 750,840 770,900 750,960 710,960 690,900"/>
<polygon class="bl" points="520,1010 560,980 600,990 610,1030 580,1050 540,1050 515,1040"/>
<ellipse class="bl" cx="540" cy="935" rx="15" ry="7"/>
<polygon class="lg" points="790,1040 850,1000 930,990 1010,1000 1100,990 1150,970 1140,1060 1100,1110 1050,1170 990,1220 930,1240 880,1225 830,1220 800,1180 790,1110"/>
<polygon class="g" points="820,1050 900,1020 980,1030 1060,1040 1120,1040 1130,1080 1090,1120 1040,1170 990,1210 940,1220 900,1200 860,1180 830,1140 810,1100"/>
<polygon class="dg" points="900,1080 980,1090 1040,1110 1050,1150 1000,1190 950,1200 920,1160"/>
<polygon class="lg" points="1120,230 1160,210 1200,200 1230,180 1240,200 1210,240 1190,290 1170,300 1150,270 1120,280"/>
<polygon class="g" points="1130,240 1160,225 1170,250 1150,275 1125,270"/>
<polygon class="lg" points="1090,540 1130,510 1180,490 1215,480 1210,510 1170,520 1130,540"/>
<polygon class="g" points="840,560 870,545 900,560 890,595 860,600 835,580"/>
<polygon class="lg" points="950,560 1000,540 1030,580 1010,650 990,720 960,740 950,680 940,620"/>
</g>
<g class="c"><polygon class="lg" points="119.8,-21.8 122.3,-21.8 122.3,-25.5 119.8,-25.5"/><polygon class="g" points="120.6,-22.5 121.4,-22.8 121.5,-24.8 120.9,-24.6"/></g>
<use href="#dots"/>
</g>
<use href="#prov"/>
<use href="#riv"/>
<use href="#lakes"/>
<use href="#cn" fill="none" stroke="#1f2d3d" stroke-width="1.3"/>
<use href="#isl" fill="none" stroke="#1f2d3d" stroke-width="1.1"/>
<use href="#misc"/>
</g>
<g stroke="#b4b4b4" stroke-width="1" stroke-dasharray="4,3">
<line x1="123.1" y1="0" x2="123.1" y2="508"/><line x1="246.3" y1="0" x2="246.3" y2="508"/><line x1="369.4" y1="0" x2="369.4" y2="508"/><line x1="492.6" y1="0" x2="492.6" y2="508"/><line x1="615.7" y1="0" x2="615.7" y2="508"/><line x1="738.9" y1="0" x2="738.9" y2="508"/>
<line x1="0" y1="127" x2="862" y2="127"/><line x1="0" y1="254" x2="862" y2="254"/><line x1="0" y1="381" x2="862" y2="381"/>
</g>
<rect x="0.5" y="0.5" width="861" height="507" fill="none" stroke="#111" stroke-width="1.2"/>
<g stroke="#111" stroke-width="1">
<line x1="-4" y1="0.5" x2="0" y2="0.5"/><line x1="-4" y1="127" x2="0" y2="127"/><line x1="-4" y1="254" x2="0" y2="254"/><line x1="-4" y1="381" x2="0" y2="381"/><line x1="-4" y1="507.5" x2="0" y2="507.5"/>
<line x1="0.5" y1="508" x2="0.5" y2="512"/><line x1="123.1" y1="508" x2="123.1" y2="512"/><line x1="246.3" y1="508" x2="246.3" y2="512"/><line x1="369.4" y1="508" x2="369.4" y2="512"/><line x1="492.6" y1="508" x2="492.6" y2="512"/><line x1="615.7" y1="508" x2="615.7" y2="512"/><line x1="738.9" y1="508" x2="738.9" y2="512"/><line x1="861.5" y1="508" x2="861.5" y2="512"/>
</g>
</svg>

<div class="lat" style="left:952px;top:697.5px">55<span class="d">°</span>&nbsp;<span class="n">N</span></div>
<div class="lat" style="left:952px;top:824.5px">45<span class="d">°</span>&nbsp;<span class="n">N</span></div>
<div class="lat" style="left:952px;top:951.5px">35<span class="d">°</span>&nbsp;<span class="n">N</span></div>
<div class="lat" style="left:952px;top:1078.5px">25<span class="d">°</span>&nbsp;<span class="n">N</span></div>
<div class="lat" style="left:952px;top:1205.5px">15<span class="d">°</span>&nbsp;<span class="n">N</span></div>

<div class="lon" style="left:988px;top:1222px">70<span class="d">°</span>&nbsp;<span class="n">E</span></div>
<div class="lon" style="left:1111px;top:1222px">80<span class="d">°</span>&nbsp;<span class="n">E</span></div>
<div class="lon" style="left:1234px;top:1222px">90<span class="d">°</span>&nbsp;<span class="n">E</span></div>
<div class="lon" style="left:1357px;top:1222px">100<span class="d">°</span>&nbsp;<span class="n">E</span></div>
<div class="lon" style="left:1481px;top:1222px">110<span class="d">°</span>&nbsp;<span class="n">E</span></div>
<div class="lon" style="left:1604px;top:1222px">120<span class="d">°</span>&nbsp;<span class="n">E</span></div>
<div class="lon" style="left:1727px;top:1222px">130<span class="d">°</span>&nbsp;<span class="n">E</span></div>
<div class="lon" style="left:1850px;top:1222px">140<span class="d">°</span>&nbsp;<span class="n">E</span></div>

<div class="fn" style="left:1028px;top:1198px">*圆点为2410个评分站观测降水量</div>

<div class="leg" style="left:1779px;top:986px">
<div class="t">观测（mm）</div>
<div class="r" style="top:24px"><span class="m" style="background:#800040"></span><span class="s">x&gt;=250</span></div>
<div class="r" style="top:43.6px"><span class="m" style="background:#c8168c"></span><span class="s">200-250</span></div>
<div class="r" style="top:63.2px"><span class="m" style="background:#ff00ff"></span><span class="s">100-200</span></div>
<div class="r" style="top:82.8px"><span class="m" style="background:#0000ff"></span><span class="s">50-100</span></div>
<div class="r" style="top:102.4px"><span class="m" style="background:#0090ff"></span><span class="s">25-50</span></div>
<div class="r" style="top:122px"><span class="m" style="background:#61b8ff"></span><span class="s">20-25</span></div>
<div class="r" style="top:141.6px"><span class="m" style="background:#2e8b2e"></span><span class="s">10-20</span></div>
<div class="r" style="top:161.2px"><span class="m" style="background:#3dba3d"></span><span class="s">5-10</span></div>
<div class="r" style="top:180.8px"><span class="m" style="background:#a6f28f"></span><span class="s">2.5-5</span></div>
<div class="r" style="top:200.4px"><span class="m" style="background:#dce9f5"></span><span class="s">0.1-2.5</span></div>
</div>

<svg class="map" style="left:1023px;top:1243px" width="862" height="18" viewBox="0 0 862 18">
<rect x="0" y="2" width="91.4" height="11" fill="#e3edf7"/>
<rect x="91.3" y="2" width="91.4" height="11" fill="#b8f5a5"/>
<rect x="182.6" y="2" width="91.4" height="11" fill="#64c864"/>
<rect x="273.9" y="2" width="91.4" height="11" fill="#55a158"/>
<rect x="365.2" y="2" width="91.4" height="11" fill="#81c6ff"/>
<rect x="456.5" y="2" width="91.4" height="11" fill="#33a6ff"/>
<rect x="547.8" y="2" width="91.4" height="11" fill="#3333ff"/>
<rect x="639.1" y="2" width="91.4" height="11" fill="#ff33ff"/>
<rect x="730.4" y="2" width="91.3" height="11" fill="#d345a3"/>
<polygon points="821.7,2 862,7.5 821.7,13" fill="#993366"/>
<path d="M0.5,2 H821.7 L861,7.5 L821.7,13 H0.5 Z" fill="none" stroke="#333" stroke-width="1"/>
<g stroke="#222" stroke-width="1"><line x1="0.5" y1="13" x2="0.5" y2="16"/><line x1="91.3" y1="13" x2="91.3" y2="16"/><line x1="182.6" y1="13" x2="182.6" y2="16"/><line x1="273.9" y1="13" x2="273.9" y2="16"/><line x1="365.2" y1="13" x2="365.2" y2="16"/><line x1="456.5" y1="13" x2="456.5" y2="16"/><line x1="547.8" y1="13" x2="547.8" y2="16"/><line x1="639.1" y1="13" x2="639.1" y2="16"/><line x1="730.4" y1="13" x2="730.4" y2="16"/><line x1="821.7" y1="13" x2="821.7" y2="16"/></g>
</svg>
<div class="cbl" style="left:1003px;top:1264px">0.1</div>
<div class="cbl" style="left:1094.3px;top:1264px">2.5</div>
<div class="cbl" style="left:1185.6px;top:1264px">5</div>
<div class="cbl" style="left:1276.9px;top:1264px">10</div>
<div class="cbl" style="left:1368.2px;top:1264px">20</div>
<div class="cbl" style="left:1459.5px;top:1264px">25</div>
<div class="cbl" style="left:1550.8px;top:1264px">50</div>
<div class="cbl" style="left:1642.1px;top:1264px">100</div>
<div class="cbl" style="left:1733.4px;top:1264px">200</div>
<div class="cbl" style="left:1824.7px;top:1264px">250</div>
<div class="cbt" style="left:1404px;top:1282px">预报(mm)</div>

</body></html>
